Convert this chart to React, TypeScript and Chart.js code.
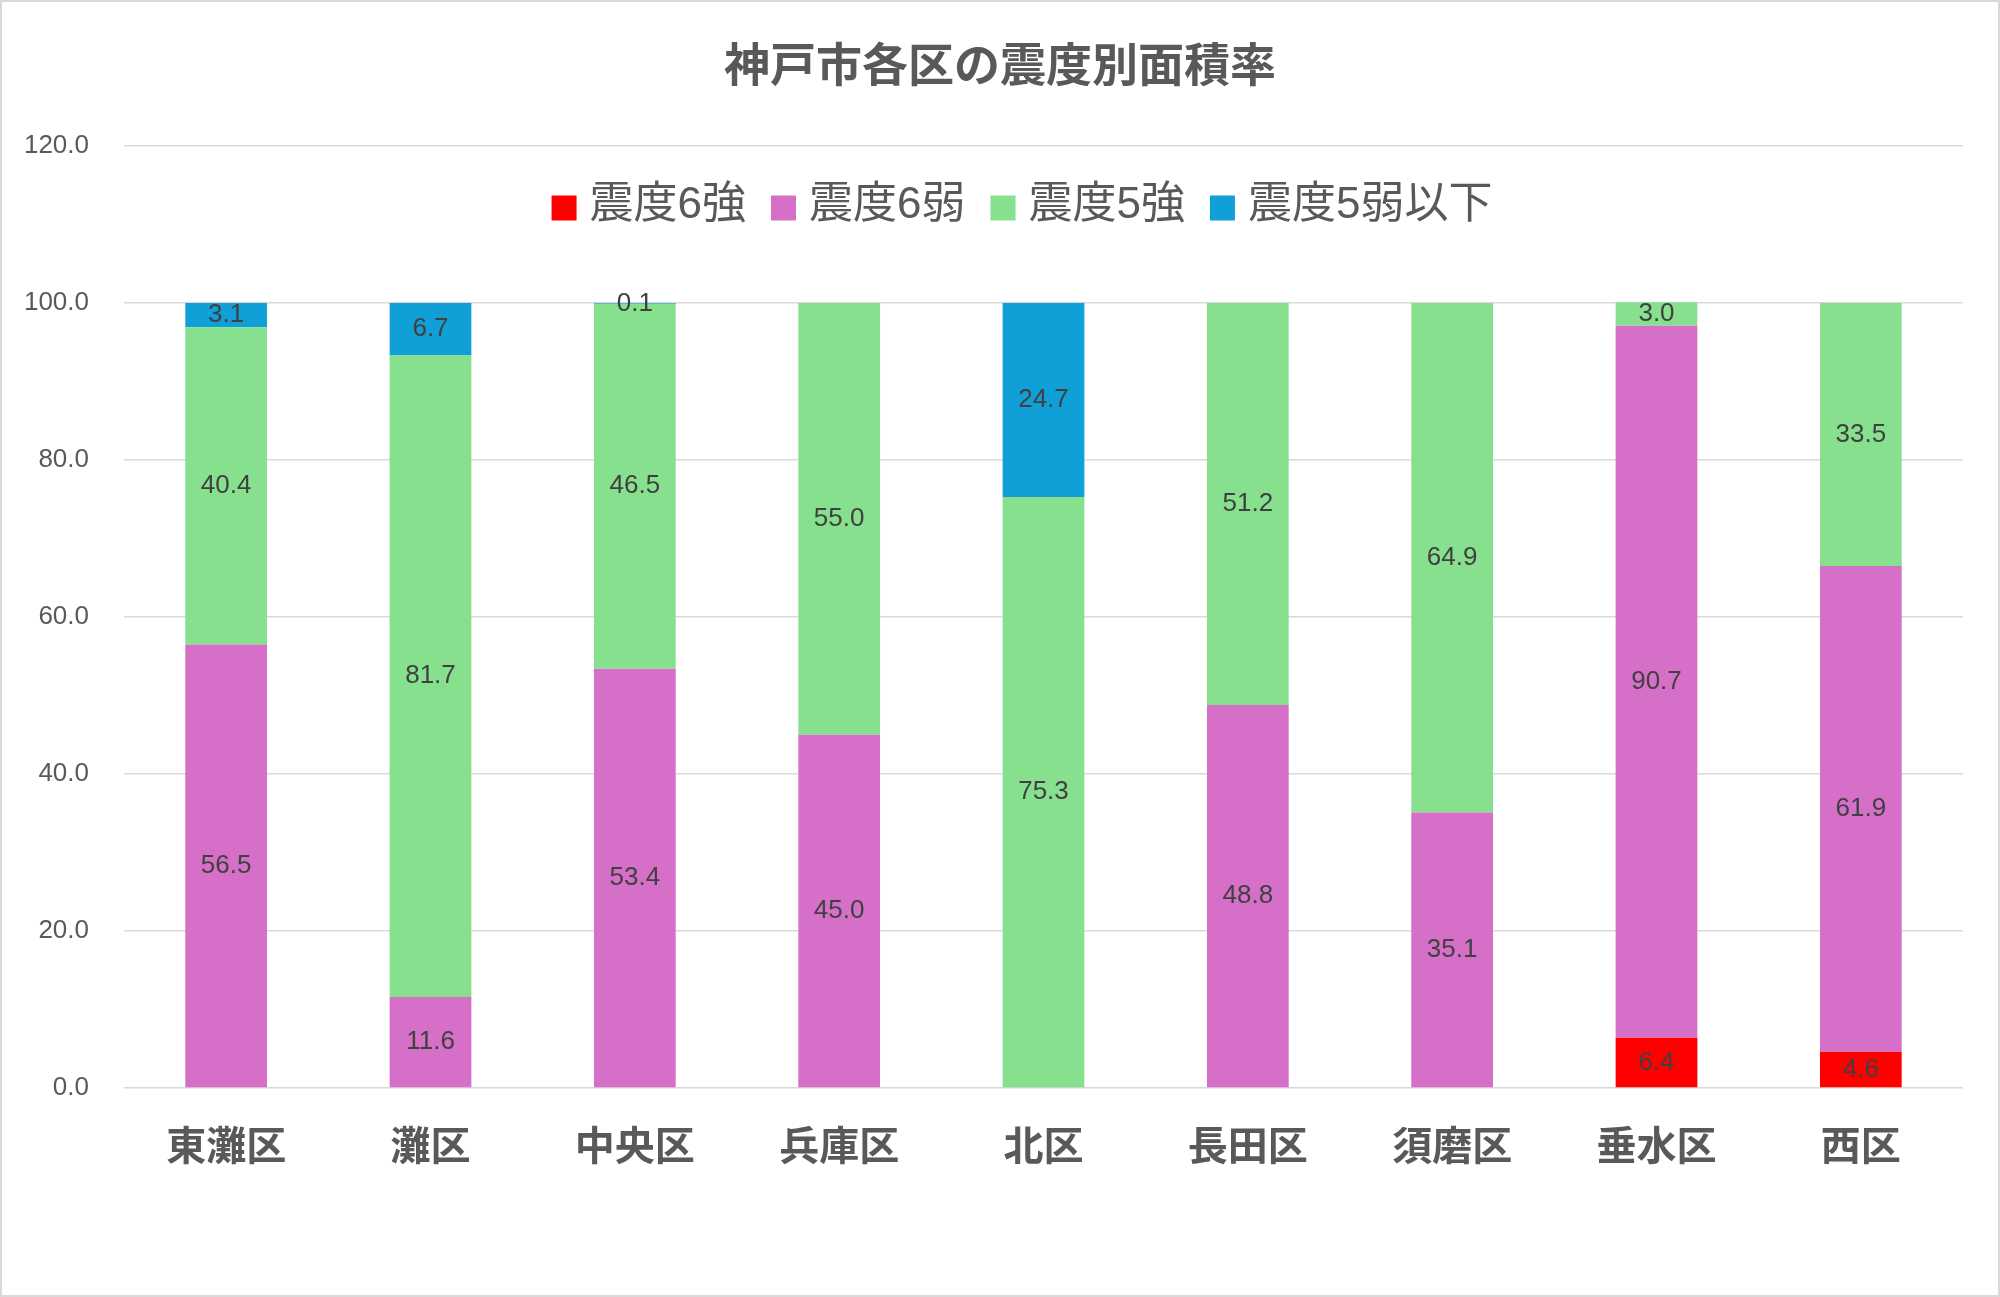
import React, { useEffect, useRef } from "react";
import { Chart, registerables } from "chart.js";

Chart.register(...registerables);

const chartTitle = "神戸市各区の震度別面積率";
const categories = ["東灘区", "灘区", "中央区", "兵庫区", "北区", "長田区", "須磨区", "垂水区", "西区"];
const shindo6Strong = [null, null, null, null, null, null, null, 6.4, 4.6];
const shindo6Weak = [56.5, 11.6, 53.4, 45.0, null, 48.8, 35.1, 90.7, 61.9];
const shindo5Strong = [40.4, 81.7, 46.5, 55.0, 75.3, 51.2, 64.9, 3.0, 33.5];
const shindo5WeakBelow = [3.1, 6.7, 0.1, null, 24.7, null, null, null, null];
const seriesNames = ["震度6強", "震度6弱", "震度5強", "震度5弱以下"];
const seriesColors = ["#FF0000", "#D56FC8", "#86E08E", "#119FD7"];
const yTicks = [0, 20, 40, 60, 80, 100, 120];

const FONT = "'Liberation Sans', 'Noto Sans CJK JP', sans-serif";
const TEXT = "#595959";

const decorPlugin = {
  id: "decor",
  afterDatasetsDraw(chart: any) {
    const ctx = chart.ctx;
    ctx.save();
    ctx.font = `26px ${FONT}`;
    ctx.fillStyle = "#404040";
    ctx.textAlign = "center";
    ctx.textBaseline = "middle";
    chart.data.datasets.forEach((ds: any, i: number) => {
      const meta = chart.getDatasetMeta(i);
      meta.data.forEach((el: any, j: number) => {
        const v = ds.data[j];
        if (v == null) return;
        const p = el.getProps(["x", "y", "base"], true);
        ctx.fillText(Number(v).toFixed(1), p.x, (p.y + p.base) / 2);
      });
    });
    ctx.restore();
  },
  afterDraw(chart: any) {
    const ctx = chart.ctx;
    ctx.save();
    // title
    ctx.font = `bold 46px ${FONT}`;
    ctx.fillStyle = TEXT;
    ctx.textAlign = "center";
    ctx.textBaseline = "middle";
    ctx.fillText(chartTitle, 1000, 68);
    // legend
    ctx.font = `44px ${FONT}`;
    const box = 25;
    const gapText = 13;
    const gapItem = 25;
    const widths = seriesNames.map((n) => ctx.measureText(n).width);
    const total = widths.reduce((a, w) => a + box + gapText + w, 0) + gapItem * (seriesNames.length - 1);
    let x = 1022 - total / 2;
    const cy = 206;
    ctx.textAlign = "left";
    seriesNames.forEach((n, i) => {
      ctx.fillStyle = seriesColors[i];
      ctx.fillRect(x, cy - box / 2 + 2, box, box);
      x += box + gapText;
      ctx.fillStyle = TEXT;
      ctx.fillText(n, x, cy);
      x += widths[i] + gapItem;
    });
    // outer border
    ctx.strokeStyle = "#D9D9D9";
    ctx.lineWidth = 2;
    ctx.strokeRect(1, 1, 1998, 1295);
    ctx.restore();
  },
};

export default function App() {
  const ref = useRef<HTMLCanvasElement | null>(null);
  useEffect(() => {
    if (!ref.current) return;
    const data = [shindo6Strong, shindo6Weak, shindo5Strong, shindo5WeakBelow];
    const chart = new Chart(ref.current, {
      type: "bar",
      data: {
        labels: categories,
        datasets: seriesNames.map((name, i) => ({
          label: name,
          data: data[i],
          backgroundColor: seriesColors[i],
          borderWidth: 0,
          categoryPercentage: 1,
          barPercentage: 0.4,
        })),
      },
      options: {
        animation: false,
        responsive: false,
        maintainAspectRatio: false,
        layout: { padding: { top: 146, right: 37, bottom: 59, left: 0 } },
        plugins: {
          legend: { display: false },
          title: { display: false },
          tooltip: { enabled: false },
        },
        scales: {
          x: {
            stacked: true,
            grid: { display: false },
            border: { display: false },
            ticks: {
              color: TEXT,
              padding: 29,
              font: { family: FONT, size: 40, weight: "bold" },
              maxRotation: 0,
            },
            afterFit(s: any) {
              s.height = 150;
            },
          },
          y: {
            stacked: true,
            min: 0,
            max: 120,
            afterBuildTicks(axis: any) {
              axis.ticks = yTicks.map((v) => ({ value: v }));
            },
            ticks: {
              color: TEXT,
              padding: 35,
              font: { family: FONT, size: 26 },
              callback: (v: any) => Number(v).toFixed(1),
            },
            grid: { color: "#D9D9D9", lineWidth: 1.5, drawTicks: false },
            border: { display: false },
            afterFit(s: any) {
              s.width = 124;
            },
          },
        },
      },
      plugins: [decorPlugin],
    } as any);
    return () => chart.destroy();
  }, []);
  return (
    <div style={{ position: "absolute", left: 0, top: 0, width: 2000, height: 1297, background: "#fff" }}>
      <canvas ref={ref} width={2000} height={1297} style={{ display: "block" }} />
    </div>
  );
}
